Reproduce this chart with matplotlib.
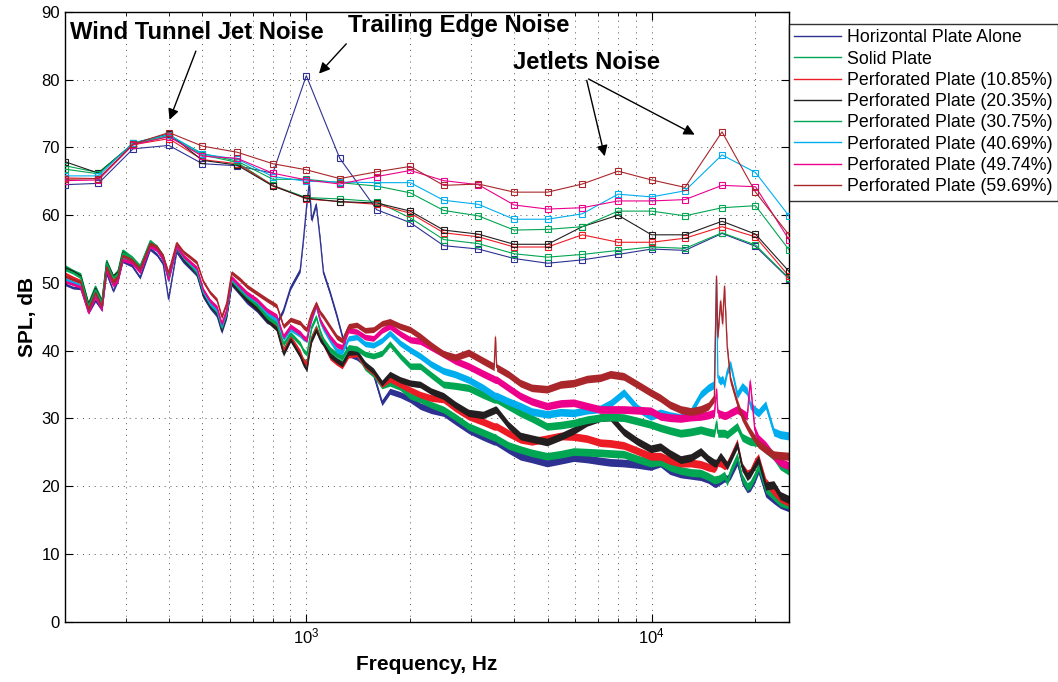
import numpy as np
import matplotlib
matplotlib.use("Agg")
import matplotlib.pyplot as plt
from matplotlib.lines import Line2D
from matplotlib.ticker import LogLocator, NullFormatter

plt.rcParams['font.family'] = ['Liberation Sans', 'DejaVu Sans']

# one-third octave band centres (Hz)
band_freq = [200, 250, 315, 400, 500, 630, 800, 1000, 1250, 1600, 2000,
             2500, 3150, 4000, 5000, 6300, 8000, 10000, 12500, 16000, 20000, 25000]

# one-third octave SPL (dB)
band_alone = [64.5, 64.7, 69.8, 70.3, 67.6, 67.3, 66.2, 80.6, 68.4, 60.8, 58.9,
              55.5, 55.0, 53.6, 52.9, 53.4, 54.2, 55.0, 54.8, 57.3, 55.4, 50.6]
band_solid = [67.3, 66.3, 70.5, 71.6, 68.9, 67.8, 64.4, 62.6, 62.4, 62.0, 59.6,
              56.4, 55.8, 54.3, 53.8, 54.2, 54.8, 55.3, 55.1, 57.4, 55.6, 50.7]
band_p1085 = [65.5, 65.4, 70.4, 71.3, 68.2, 67.6, 64.4, 62.4, 62.0, 61.6, 60.3,
              57.4, 56.8, 55.3, 55.3, 57.1, 56.0, 56.0, 56.6, 58.3, 56.8, 51.0]
band_p2035 = [67.9, 66.2, 70.6, 72.0, 68.1, 67.4, 64.3, 62.5, 62.0, 61.8, 60.6,
              57.8, 57.2, 55.7, 55.7, 58.3, 60.0, 57.1, 57.1, 59.1, 57.2, 51.7]
band_p3075 = [66.8, 66.1, 70.6, 71.8, 69.1, 68.0, 65.3, 65.3, 64.8, 64.3, 63.3,
              60.7, 59.9, 57.8, 57.9, 58.3, 60.6, 60.6, 59.9, 61.1, 61.4, 54.9]
band_p4069 = [65.8, 65.8, 70.7, 71.9, 69.0, 68.3, 65.7, 65.0, 64.9, 64.8, 64.8,
              62.2, 61.6, 59.4, 59.4, 60.2, 63.1, 62.7, 63.6, 68.9, 66.3, 59.9]
band_p4974 = [65.1, 65.2, 70.4, 71.6, 68.7, 68.4, 66.2, 65.2, 64.6, 65.7, 66.6,
              65.1, 64.5, 61.5, 60.9, 61.1, 62.1, 62.1, 62.3, 64.4, 64.2, 56.4]
band_p5969 = [65.3, 65.4, 70.5, 72.2, 70.2, 69.3, 67.6, 66.7, 65.4, 66.4, 67.2,
              64.4, 64.6, 63.4, 63.4, 64.6, 66.5, 65.2, 64.1, 72.3, 63.4, 57.1]

# narrowband spectrum, frequencies (Hz)
nb_freq = [200, 211, 222, 234, 245, 256, 264, 276, 285, 294,
           312, 330, 353, 369, 385, 399, 421, 440, 461, 482,
           503, 526, 551, 569, 588, 608, 643, 673, 719, 769,
           821, 859, 900, 960, 981, 1004, 1020, 1036, 1068, 1097,
           1121, 1172, 1226, 1271, 1325, 1401, 1480, 1565, 1656, 1746,
           1870, 2000, 2138, 2300, 2497, 2700, 2951, 3250, 3500, 3530,
           3560, 3850, 4168, 4500, 4981, 5450, 5950, 6500, 7109, 7600,
           8309, 9100, 9948, 10610, 11300, 12143, 13000, 13876, 14600, 15200,
           15418, 15560, 15836, 16050, 16264, 16558, 16925, 17700, 18300, 18920,
           19300, 19900, 20400, 21400, 22600, 23600, 25000]

nb_alone = [49.8, 49.3, 49.2, 45.6, 47.4, 46.0, 51.4, 48.8, 50.4, 53.2,
            52.6, 50.8, 55.0, 54.2, 52.8, 47.6, 54.6, 53.2, 52.2, 51.2,
            48.0, 46.4, 45.2, 42.8, 45.0, 49.8, 48.4, 47.2, 46.0, 44.3,
            44.0, 46.0, 49.3, 51.9, 56.4, 61.8, 64.8, 59.3, 61.6, 56.4,
            51.5, 48.5, 45.1, 42.1, 39.5, 39.0, 38.0, 36.5, 32.3, 34.0,
            33.5, 32.8, 31.8, 31.2, 30.8, 29.6, 28.3, 27.3, 26.6, 26.6,
            26.5, 25.4, 24.4, 24.0, 23.4, 23.8, 24.2, 24.0, 23.7, 23.5,
            23.4, 23.2, 22.9, 23.4, 22.3, 21.8, 21.6, 21.4, 21.0, 20.4,
            20.4, 20.6, 20.8, 21.0, 21.2, 21.0, 21.6, 23.6, 20.8, 19.6,
            19.8, 21.0, 22.4, 19.0, 18.0, 17.3, 16.8]
nb_solid = [52.5, 51.8, 51.3, 47.0, 49.5, 47.4, 53.3, 51.0, 51.8, 54.8,
            53.8, 52.5, 56.0, 55.4, 54.0, 51.0, 55.4, 53.9, 52.8, 51.7,
            48.6, 46.9, 45.8, 43.3, 45.5, 50.3, 48.8, 47.8, 46.5, 44.6,
            43.5, 40.2, 41.8, 39.5, 38.6, 38.2, 40.0, 42.0, 43.5, 42.0,
            41.3, 39.5, 38.6, 38.2, 39.6, 39.5, 37.5, 36.5, 34.8, 35.2,
            34.6, 33.3, 32.8, 32.0, 31.3, 30.2, 28.8, 27.9, 27.2, 27.2,
            27.0, 26.0, 25.4, 24.9, 24.4, 24.7, 25.1, 25.0, 24.9, 24.8,
            24.7, 24.0, 23.4, 23.6, 22.8, 22.3, 22.0, 21.9, 21.4, 20.9,
            21.0, 21.0, 21.2, 21.4, 21.6, 20.6, 22.2, 24.4, 21.2, 19.9,
            20.2, 21.5, 22.9, 19.6, 18.5, 17.6, 17.2]
nb_p1085 = [51.4, 50.8, 50.3, 46.3, 48.7, 46.7, 52.6, 50.4, 51.2, 54.1,
            53.4, 52.2, 55.8, 55.1, 53.6, 50.7, 55.4, 53.9, 52.9, 51.8,
            48.6, 47.0, 45.8, 43.3, 45.5, 50.2, 48.8, 47.7, 46.5, 44.8,
            43.5, 40.0, 42.0, 39.8, 38.5, 38.0, 40.0, 41.8, 43.3, 41.8,
            41.0, 39.0, 38.2, 37.7, 39.3, 39.5, 37.8, 36.8, 35.0, 35.8,
            35.0, 34.2, 33.5, 33.0, 32.8, 31.5, 30.3, 29.5, 28.8, 28.8,
            28.8, 27.8, 26.9, 26.6, 27.0, 27.4, 27.3, 27.0, 26.4, 26.3,
            26.0, 25.2, 24.4, 24.4, 23.8, 23.4, 23.4, 23.2, 22.8, 22.6,
            23.0, 23.5, 23.4, 23.2, 23.0, 23.2, 24.2, 26.4, 22.8, 21.8,
            22.0, 23.5, 24.2, 20.6, 19.2, 18.2, 17.6]
nb_p2035 = [52.2, 51.7, 51.0, 46.8, 49.2, 47.2, 53.0, 51.0, 51.6, 54.5,
            53.6, 52.2, 55.6, 55.0, 53.4, 50.6, 55.2, 53.6, 52.5, 51.5,
            48.3, 46.7, 45.6, 43.1, 45.3, 50.0, 48.6, 47.5, 46.2, 44.5,
            43.2, 39.5, 41.6, 39.2, 38.0, 37.2, 39.5, 41.5, 43.0, 41.6,
            41.0, 39.3, 38.5, 38.0, 39.7, 39.8, 38.0, 37.0, 35.2, 36.5,
            35.7, 35.2, 35.0, 34.0, 33.3, 32.0, 30.8, 30.5, 31.2, 31.3,
            31.2, 29.0, 27.4, 27.0, 26.5, 27.3, 28.2, 29.4, 30.1, 30.2,
            28.0, 26.6, 25.5, 25.8, 24.8, 23.9, 24.2, 25.1, 24.0, 23.4,
            23.4, 23.8, 24.4, 24.0, 23.6, 23.0, 24.0, 26.1, 22.8, 21.4,
            21.8, 23.0, 23.9, 20.0, 20.2, 18.6, 18.0]
nb_p3075 = [52.0, 51.5, 50.8, 46.6, 49.0, 47.1, 52.9, 50.8, 51.4, 54.4,
            53.8, 52.4, 56.2, 55.3, 53.7, 50.9, 55.4, 53.8, 52.7, 51.6,
            48.6, 46.9, 45.8, 43.4, 45.6, 50.4, 49.0, 48.0, 46.8, 45.0,
            44.0, 41.0, 42.5, 41.0, 40.0, 39.5, 41.5, 43.5, 45.0, 42.8,
            41.6, 40.2, 39.4, 39.0, 40.5, 40.3, 39.5, 39.2, 39.6, 41.0,
            39.2, 37.7, 37.7, 36.4, 35.0, 34.8, 34.5, 33.5, 32.8, 32.8,
            32.8, 31.8, 30.8, 30.0, 28.8, 29.0, 29.3, 29.8, 30.1, 30.2,
            30.1, 29.6, 29.1, 28.6, 28.2, 27.8, 28.0, 28.3, 28.0, 27.8,
            29.5, 27.8, 27.8, 27.8, 27.8, 27.6, 28.0, 28.8, 27.2, 26.8,
            26.6, 26.5, 26.4, 25.4, 24.4, 23.0, 22.2]
nb_p4069 = [50.6, 50.1, 49.7, 45.8, 48.1, 46.2, 52.0, 49.8, 50.6, 53.6,
            53.1, 51.8, 55.4, 54.9, 53.5, 50.3, 55.3, 53.9, 52.9, 51.9,
            48.7, 47.0, 46.0, 43.6, 45.7, 50.6, 49.3, 48.3, 47.3, 45.6,
            44.6, 41.8, 43.2, 42.3, 41.8, 41.6, 43.3, 44.6, 46.6, 44.3,
            43.2, 41.5, 40.0, 39.8, 41.8, 42.0, 41.0, 40.8, 41.5, 42.6,
            41.1, 40.1, 39.2, 38.0, 37.0, 36.5, 35.7, 34.5, 33.4, 33.3,
            33.3, 32.5, 31.8, 31.0, 30.6, 30.9, 30.8, 31.2, 31.4, 32.2,
            33.8, 31.5, 30.3, 30.8, 30.4, 30.1, 31.0, 33.5, 34.5, 35.0,
            50.5, 36.0, 35.5, 35.8, 35.0, 37.0, 38.0, 33.5, 34.7, 34.0,
            32.0, 31.2, 30.8, 32.0, 28.0, 27.6, 27.4]
nb_p4974 = [50.2, 49.8, 49.4, 45.6, 47.9, 46.0, 51.8, 49.6, 50.4, 53.4,
            53.0, 51.6, 55.4, 54.9, 53.5, 50.4, 55.4, 54.0, 53.1, 52.2,
            49.0, 47.4, 46.4, 44.0, 46.0, 50.8, 49.5, 48.5, 47.5, 46.0,
            45.1, 42.1, 43.6, 42.6, 42.0, 41.6, 43.5, 44.8, 46.8, 44.5,
            43.6, 42.0, 40.8, 40.5, 43.0, 42.8, 42.0, 41.8, 43.0, 43.6,
            42.5, 41.6, 41.4, 40.5, 39.5, 38.5, 37.7, 36.6, 35.8, 35.7,
            35.7, 34.5, 33.3, 32.5, 31.8, 32.2, 32.3, 31.8, 31.3, 31.3,
            31.3, 31.2, 31.1, 30.3, 30.1, 30.0, 30.2, 30.3, 30.5, 30.8,
            34.3, 30.8, 30.6, 30.5, 30.4, 30.5, 30.8, 31.3, 30.8, 30.3,
            35.5, 28.3, 27.0, 26.0, 24.4, 23.5, 23.0]
nb_p5969 = [51.0, 50.5, 50.1, 46.1, 48.5, 46.5, 52.3, 50.1, 50.9, 54.0,
            53.4, 52.1, 55.8, 55.3, 54.0, 51.5, 55.9, 54.6, 53.8, 53.0,
            50.2, 48.6, 47.5, 45.0, 47.0, 51.5, 50.5, 49.5, 48.5, 47.5,
            46.6, 43.6, 44.6, 44.1, 43.5, 43.1, 44.5, 45.5, 47.0, 45.6,
            45.0, 43.5, 42.0, 41.5, 43.6, 43.8, 43.0, 43.1, 44.0, 44.3,
            43.6, 43.1, 42.1, 40.8, 39.5, 39.0, 39.7, 38.5, 37.6, 42.0,
            37.5, 36.5, 35.2, 34.5, 34.3, 35.0, 35.2, 35.8, 36.0, 36.5,
            36.2, 35.0, 33.8, 33.0, 32.0, 31.3, 31.0, 31.3, 31.8, 33.0,
            51.0, 42.0, 47.3, 44.0, 49.5, 40.6, 35.7, 32.3, 30.2, 28.8,
            28.0, 27.0, 26.2, 25.4, 24.6, 24.5, 24.4]

labels = ['Horizontal Plate Alone', 'Solid Plate', 'Perforated Plate (10.85%)',
          'Perforated Plate (20.35%)', 'Perforated Plate (30.75%)',
          'Perforated Plate (40.69%)', 'Perforated Plate (49.74%)',
          'Perforated Plate (59.69%)']
colors = ['#2e3192', '#00a651', '#ed1c24', '#231f20', '#00a651',
          '#00aeef', '#ec008c', '#a9262b']

bands = [band_alone, band_solid, band_p1085, band_p2035,
         band_p3075, band_p4069, band_p4974, band_p5969]
spectra = [nb_alone, nb_solid, nb_p1085, nb_p2035,
           nb_p3075, nb_p4069, nb_p4974, nb_p5969]

fig = plt.figure(figsize=(10.58, 6.82), dpi=100)
ax = fig.add_axes([0.0614, 0.0887, 0.6843, 0.8937])

# narrowband spread gets wider at high frequency (linear bins on a log axis)
f_nb = np.array(nb_freq, dtype=float)
half_width = np.interp(np.log10(f_nb), [2.3, 3.0, 3.5, 4.4], [0.2, 0.35, 0.55, 0.6])

for spec, col in zip(spectra, colors):
    s = np.array(spec)
    ax.fill_between(f_nb, s - half_width, s + half_width, color=col, lw=0, zorder=2)
    ax.plot(f_nb, s, color=col, lw=0.9, zorder=2)

for band, col in zip(bands, colors):
    ax.plot(band_freq, band, color=col, lw=0.8, marker='s', ms=4,
            mfc='none', mec=col, mew=0.8, zorder=3)

ax.set_xscale('log')
ax.set_xlim(200, 25000)
ax.set_ylim(0, 90)
ax.set_yticks(range(0, 91, 10))
ax.xaxis.set_major_locator(LogLocator(base=10, numticks=10))
ax.xaxis.set_minor_locator(LogLocator(base=10, subs=np.arange(2, 10), numticks=50))
ax.xaxis.set_minor_formatter(NullFormatter())

ax.grid(True, which='both', axis='x', linestyle=(0, (1, 5)), color='#555555', lw=0.7)
ax.grid(True, which='major', axis='y', linestyle=(0, (1, 5)), color='#555555', lw=0.7)
ax.tick_params(which='both', direction='in', top=True, right=True, labelsize=12)
ax.tick_params(which='major', length=6)
ax.tick_params(which='minor', length=3)
for sp in ax.spines.values():
    sp.set_linewidth(1.0)

ax.set_xlabel('Frequency, Hz', fontsize=15, fontweight='bold', labelpad=6)
ax.set_ylabel('SPL, dB', fontsize=15, fontweight='bold', labelpad=3)

# annotations
arrow = dict(arrowstyle='-|>', color='k', lw=1, mutation_scale=16)
ax.text(207, 87.0, 'Wind Tunnel Jet Noise', fontsize=17.2, fontweight='bold', va='center')
ax.annotate('', xy=(399, 73.7), xytext=(482, 84.6), arrowprops=arrow)
ax.text(1322, 88.0, 'Trailing Edge Noise', fontsize=17.2, fontweight='bold', va='center')
ax.annotate('', xy=(1075, 80.6), xytext=(1322, 85.6), arrowprops=arrow)
ax.text(3979, 82.6, 'Jetlets Noise', fontsize=17.2, fontweight='bold', va='center')
ax.annotate('', xy=(7349, 68.3), xytext=(6462, 80.3), arrowprops=arrow)
ax.annotate('', xy=(13552, 71.7), xytext=(6462, 80.3), arrowprops=arrow)

handles = [Line2D([], [], color=c, lw=1.0) for c in colors]
leg = fig.legend(handles, labels, loc='upper left',
                 bbox_to_anchor=(789 / 1058, 1 - 24 / 682),
                 fontsize=12.8, frameon=True, fancybox=False, handlelength=2.6,
                 handletextpad=0.35, labelspacing=0.24, borderpad=0.3,
                 borderaxespad=0)
leg.get_frame().set_edgecolor('k')
leg.get_frame().set_linewidth(1.0)

fig.savefig('out.png', dpi=100)
